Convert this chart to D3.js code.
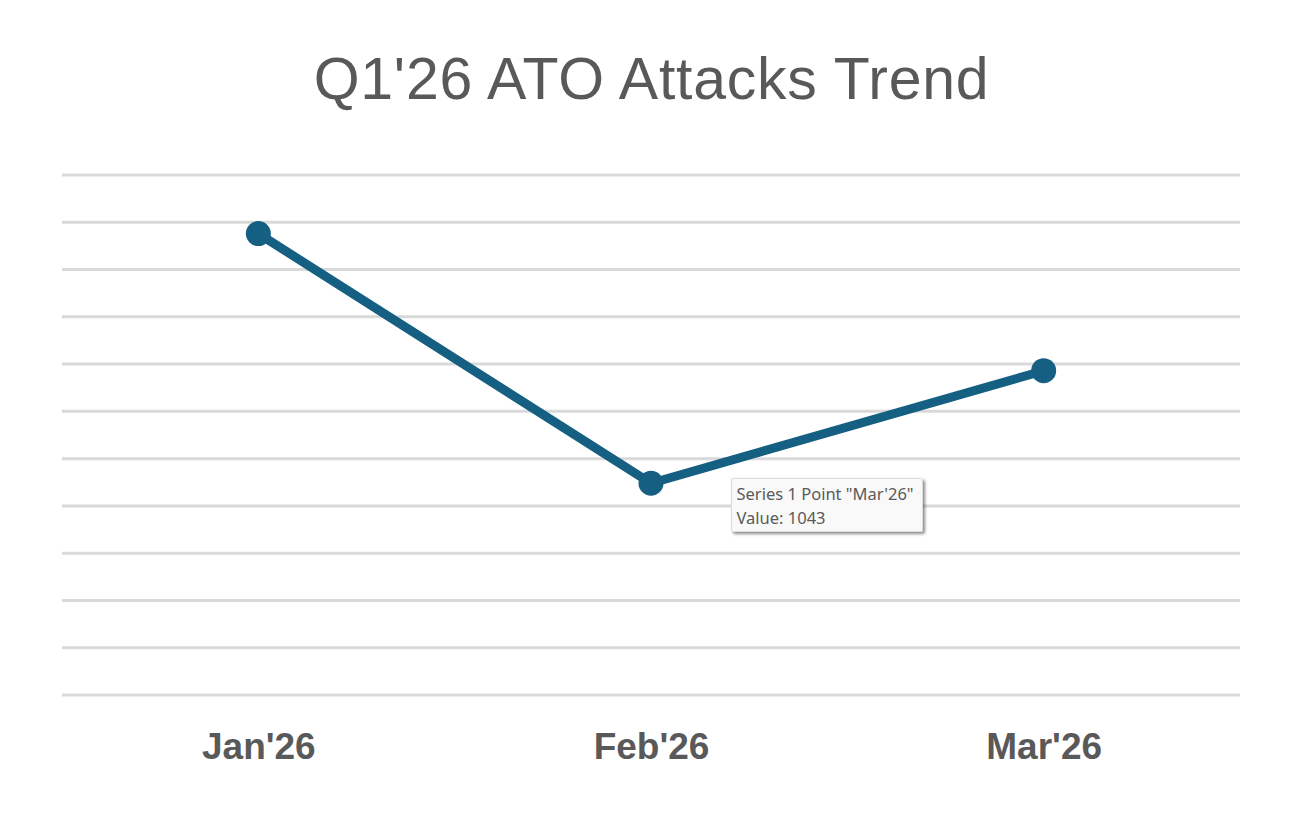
<!DOCTYPE html>
<html>
<head>
<meta charset="utf-8">
<script src="https://cdn.jsdelivr.net/npm/d3@7"></script>
<style>
  html, body { margin: 0; padding: 0; background: #ffffff; }
  svg { display: block; }
</style>
</head>
<body>
<svg id="chart" width="1311" height="815"></svg>
<script>
// ---- Data ----
const title = "Q1'26 ATO Attacks Trend";
const categories = ["Jan'26", "Feb'26", "Mar'26"];
const values = [1188, 924, 1043];
const yMin = 700;
const yMax = 1250;
const yStep = 50;
const tooltipLines = ["Series 1 Point \"Mar'26\"", "Value: 1043"];

// ---- Layout ----
const W = 1311, H = 815;
const plot = { left: 62, right: 1240, top: 175, bottom: 695 };
const textColor = "#595959";
const lineColor = "#156082";
const gridColor = "#d9d9d9";

const svg = d3.select("#chart");

const defs = svg.append("defs");
const f = defs.append("filter").attr("id", "shadow")
  .attr("x", "-10%").attr("y", "-20%").attr("width", "130%").attr("height", "150%");
f.append("feDropShadow")
  .attr("dx", 2).attr("dy", 2).attr("stdDeviation", 1.5)
  .attr("flood-color", "#000").attr("flood-opacity", 0.45);

const x = d3.scalePoint().domain(categories).range([plot.left, plot.right]).padding(0.5);
const y = d3.scaleLinear().domain([yMin, yMax]).range([plot.bottom, plot.top]);

// Title
svg.append("text")
  .attr("x", (315 + 988) / 2)
  .attr("y", 99)
  .attr("text-anchor", "middle")
  .attr("font-family", "'Liberation Sans', Arial, sans-serif")
  .attr("font-size", 59)
  .attr("letter-spacing", 0.75)
  .attr("fill", textColor)
  .text(title);

// Gridlines
const ticks = d3.range(yMin, yMax + yStep / 2, yStep);
svg.append("g").selectAll("line").data(ticks).join("line")
  .attr("x1", plot.left).attr("x2", plot.right)
  .attr("y1", d => y(d)).attr("y2", d => y(d))
  .attr("stroke", gridColor).attr("stroke-width", 3);

// X axis labels
const xAxis = d3.axisBottom(x).tickSize(0).tickPadding(0);
const gx = svg.append("g").attr("transform", `translate(0, ${plot.bottom})`).call(xAxis);
gx.select(".domain").remove();
gx.selectAll("text")
  .attr("dy", null)
  .attr("y", 64)
  .attr("font-family", "'Liberation Sans', Arial, sans-serif")
  .attr("font-weight", "bold")
  .attr("font-size", 37)
  .attr("fill", textColor);

// Line
const data = categories.map((c, i) => ({ c, v: values[i] }));
svg.append("path")
  .datum(data)
  .attr("fill", "none")
  .attr("stroke", lineColor)
  .attr("stroke-width", 9)
  .attr("stroke-linejoin", "round")
  .attr("d", d3.line().x(d => x(d.c)).y(d => y(d.v)));

svg.append("g").selectAll("circle").data(data).join("circle")
  .attr("cx", d => x(d.c)).attr("cy", d => y(d.v))
  .attr("r", 12.5)
  .attr("fill", lineColor);

// Tooltip (static, as in the reference)
const tip = svg.append("g").attr("transform", "translate(731,478)");
tip.append("rect")
  .attr("x", 0.5).attr("y", 0.5).attr("width", 191).attr("height", 53)
  .attr("rx", 1.5)
  .attr("fill", "#f9f9f9").attr("stroke", "#dcdcdc").attr("stroke-width", 1)
  .attr("filter", "url(#shadow)");
tip.selectAll("text.tl").data(tooltipLines).join("text")
  .attr("class", "tl")
  .attr("x", 5.5)
  .attr("y", (d, i) => 22 + i * 24)
  .attr("font-family", "'Noto Sans', 'Open Sans', sans-serif")
  .attr("font-size", 16.5)
  .attr("fill", "#5a5a5a")
  .text(d => d);
</script>
</body>
</html>
